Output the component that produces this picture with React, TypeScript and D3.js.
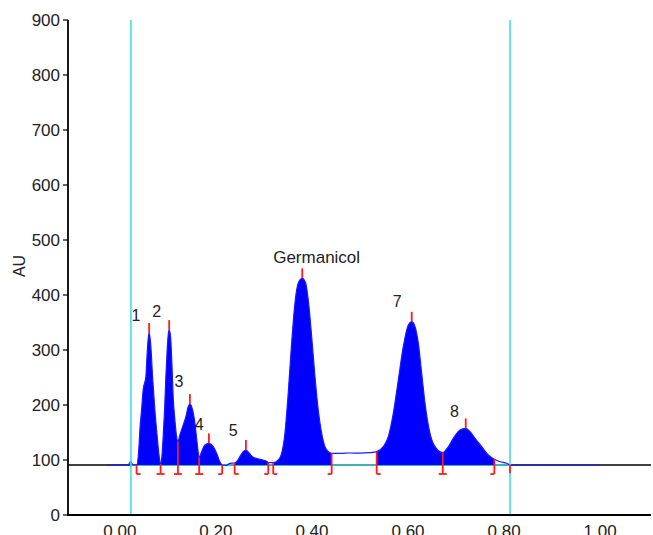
import React from 'react';
import * as d3 from 'd3';

// ---- data ----
const traceRT = [
  -0.0271, 0.0167, 0.0229, 0.0271, 0.0348, 0.0402, 0.0417, 0.0452, 0.0485, 0.0542, 0.0569, 0.0598, 0.061,
  0.064, 0.0681, 0.0729, 0.0777, 0.0819, 0.0848, 0.0875, 0.0902, 0.0931, 0.0958, 0.0985, 0.1015, 0.1027,
  0.1056, 0.1083, 0.111, 0.1146, 0.1181, 0.1208, 0.125, 0.1319, 0.1375, 0.1423, 0.1458, 0.1515, 0.1563,
  0.161, 0.1652, 0.1702, 0.1771, 0.1854, 0.1944, 0.2015, 0.2083, 0.2131, 0.2223, 0.2292, 0.239, 0.2431,
  0.25, 0.2569, 0.2625, 0.2694, 0.2777, 0.2917, 0.3056, 0.3104, 0.3194, 0.3298, 0.3369, 0.3438, 0.3506,
  0.3577, 0.3646, 0.3715, 0.3798, 0.3869, 0.3923, 0.3994, 0.4063, 0.4131, 0.4202, 0.4271, 0.434, 0.441,
  0.458, 0.479, 0.50, 0.5208, 0.5348, 0.5485, 0.559, 0.5694, 0.5798, 0.5902, 0.6006, 0.6077, 0.6146,
  0.6215, 0.6285, 0.6354, 0.6458, 0.6563, 0.6723, 0.684, 0.6944, 0.7083, 0.7202, 0.7292, 0.7396, 0.7535,
  0.7673, 0.7798, 0.7917, 0.8056, 0.8125, 0.90, 1.0,
];
const traceAU = [
  90.9, 91, 97.3, 91, 91, 130.4, 154.5, 190.9, 227.3, 251.5, 294.5, 327.3, 331,
  312.7, 251.5, 190.9, 142.4, 106, 92.7, 106, 142.4, 190.9, 251.5, 300, 333.3, 336.4,
  324.2, 276.4, 215, 172.7, 142.4, 133.3, 145.5, 163.6, 178.7, 196.9, 201.8, 190.9, 166.7,
  130.4, 104.5, 115.1, 127.3, 130.4, 124.2, 112.2, 96.9, 90.9, 90.4, 94, 94.5, 96.9,
  106, 115.1, 118.2, 112.2, 104.9, 101.3, 97.6, 95.1, 95.1, 100, 112.2, 149.1, 221.8,
  312.7, 385.5, 421.8, 430.4, 421.8, 390.9, 324.2, 251.5, 190.9, 148.5, 124.2, 115.1, 112.2,
  112.0, 112.7, 112.4, 113.3, 115.1, 124.2, 142.4, 184.9, 245.5, 306, 345.5, 351.5, 342.4,
  312.2, 257.6, 203.1, 148.5, 124.2, 113.3, 124.2, 139.5, 154.5, 157.6, 151.5, 139.5, 124.2,
  109.1, 101.3, 96.9, 94, 90.9, 90.9, 90.9,
];

const baselineAU = 91;
const cyanRT = [0.023, 0.8125];

const windowStart = [0.0348, 0.239, 0.3194, 0.5348];
const windowEnd = [0.2131, 0.3090, 0.4410, 0.7798];

const peakNames = ['1', '2', '3', '4', '5', 'Germanicol', '7', '8'];
const peakRT = [0.061, 0.1027, 0.1458, 0.1854, 0.2625, 0.3798, 0.6077, 0.7202];
const peakAU = [331, 336.4, 201.8, 130.4, 118.2, 430.4, 351.5, 157.6];
const labelRT = [0.0333, 0.0765, 0.1229, 0.1652, 0.236, 0.4098, 0.5777, 0.6965];
const labelAU = [352.7, 359.3, 232, 155, 144.2, 458.5, 377.5, 177.5];

const boundaryRT = [0.0348, 0.0848, 0.1208, 0.1652, 0.2131, 0.239, 0.309, 0.3194, 0.441, 0.5348, 0.6723, 0.7798, 0.8125];
const boundaryType = ['start', 'both', 'both', 'both', 'end', 'start', 'end', 'start', 'end', 'start', 'both', 'end', 'none'];

const yTicks = [0, 100, 200, 300, 400, 500, 600, 700, 800, 900];
const xTicks = [0, 0.2, 0.4, 0.6, 0.8, 1.0];

// ---- chart ----
const W = 653;
const H = 535;

export default function App() {
  const x = d3.scaleLinear().domain([-0.108, 1.106]).range([68, 651]);
  const y = d3.scaleLinear().domain([0, 900]).range([515, 20]);

  const pts: [number, number][] = traceRT.map((r, i) => [r, traceAU[i]]);
  const interp = (r: number) => {
    for (let i = 1; i < traceRT.length; i++) {
      if (traceRT[i] >= r) {
        const t = (r - traceRT[i - 1]) / (traceRT[i] - traceRT[i - 1]);
        return traceAU[i - 1] + t * (traceAU[i] - traceAU[i - 1]);
      }
    }
    return baselineAU;
  };

  const line = d3
    .line<[number, number]>()
    .x((d) => x(d[0]))
    .y((d) => y(d[1]))
    .curve(d3.curveMonotoneX);
  const area = d3
    .area<[number, number]>()
    .x((d) => x(d[0]))
    .y0(y(baselineAU))
    .y1((d) => y(d[1]))
    .curve(d3.curveMonotoneX);

  const footY = y(74.5);
  const foot = 4;
  const red = '#ff1a1a';
  const cyan = '#40d8dc';
  const font = 'Arial, "Liberation Sans", Helvetica, sans-serif';
  const textColor = '#222';

  return (
    <svg width={W} height={H} style={{ position: 'absolute', left: 0, top: 0 }} fontFamily={font}>
      <defs>
        {windowStart.map((s, i) => (
          <clipPath id={`win${i}`} key={i}>
            <rect x={x(s)} y={0} width={x(windowEnd[i]) - x(s)} height={H} />
          </clipPath>
        ))}
      </defs>
      <rect width={W} height={H} fill="#fff" />

      {/* baselines */}
      <line x1={68} x2={651} y1={y(baselineAU)} y2={y(baselineAU)} stroke="#000" strokeWidth={1.5} />
      <line x1={x(cyanRT[0])} x2={x(cyanRT[1])} y1={y(baselineAU)} y2={y(baselineAU)} stroke={cyan} strokeWidth={1.5} />

      {/* filled peaks */}
      {windowStart.map((s, i) => (
        <path key={i} d={area(pts) || ''} fill="#0000ff" clipPath={`url(#win${i})`} />
      ))}
      {/* trace */}
      <path d={line(pts) || ''} fill="none" stroke="#1a1aff" strokeWidth={1.2} />

      {/* cyan vertical lines */}
      {cyanRT.map((r, i) => (
        <line key={i} x1={x(r)} x2={x(r)} y1={y(900)} y2={y(0)} stroke={cyan} strokeWidth={1.5} />
      ))}

      {/* boundary markers */}
      {boundaryRT.map((r, i) => {
        const px = x(r);
        const top = y(interp(r));
        const type = boundaryType[i];
        const bottom = type === 'none' ? y(76) : footY;
        return (
          <g key={i} stroke={red} strokeWidth={1.8} fill="none">
            <line x1={px} x2={px} y1={top} y2={bottom} />
            {(type === 'start' || type === 'both') && <line x1={px} x2={px + foot} y1={footY} y2={footY} />}
            {(type === 'end' || type === 'both') && <line x1={px - foot} x2={px} y1={footY} y2={footY} />}
          </g>
        );
      })}

      {/* apex markers */}
      {peakRT.map((r, i) => (
        <line key={i} x1={x(r)} x2={x(r)} y1={y(peakAU[i])} y2={y(peakAU[i] + 18)} stroke={red} strokeWidth={1.8} />
      ))}

      {/* peak labels */}
      {peakNames.map((n, i) => (
        <text key={i} x={x(labelRT[i])} y={y(labelAU[i])} textAnchor="middle" fontSize={n.length > 1 ? 17 : 16} fill={textColor}>
          {n}
        </text>
      ))}

      {/* axes */}
      <line x1={68} x2={68} y1={y(900)} y2={y(0) + 0.75} stroke="#000" strokeWidth={1.8} />
      <line x1={67} x2={651} y1={y(0)} y2={y(0)} stroke="#000" strokeWidth={1.8} />
      {yTicks.map((t) => (
        <g key={t}>
          <line x1={63} x2={68} y1={y(t)} y2={y(t)} stroke="#000" strokeWidth={1.2} />
          <text x={60} y={y(t)} dy="0.35em" textAnchor="end" fontSize={17} fill={textColor}>
            {t}
          </text>
        </g>
      ))}
      {xTicks.map((t) => (
        <text key={t} x={x(t)} y={537} textAnchor="middle" fontSize={17} fill={textColor}>
          {d3.format('.2f')(t)}
        </text>
      ))}
      <text transform={`translate(25,266) rotate(-90)`} textAnchor="middle" fontSize={16} fill={textColor}>
        AU
      </text>
    </svg>
  );
}
